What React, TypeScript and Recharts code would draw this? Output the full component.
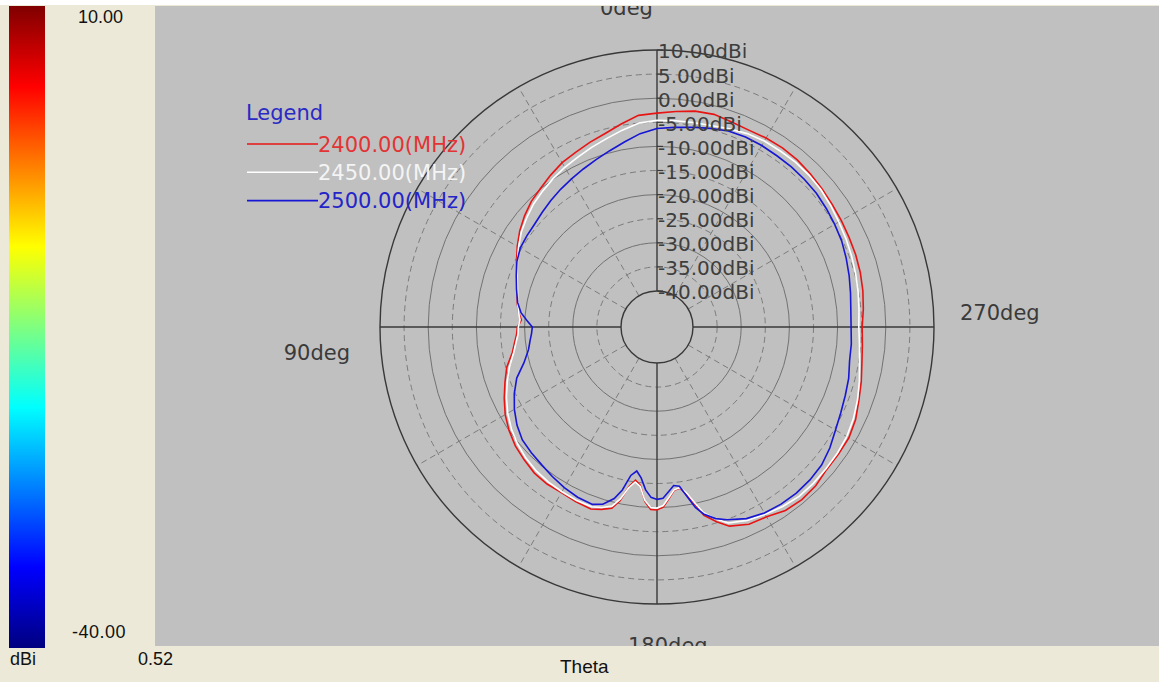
import React from 'react';
import { RadarChart, Radar, PolarGrid, PolarAngleAxis, PolarRadiusAxis } from 'recharts';

// theta in degrees, 0 at top, counter-clockwise (90 = left, 270 = right)
const thetas = [
  0, 5, 10, 15, 20, 25, 30, 35, 40, 45, 50, 55, 60, 65, 70, 75, 80,
  84, 87, 90, 93, 96,
  100, 105, 110, 115, 120, 125, 130, 135, 140, 145, 150, 155, 160,
  163, 166, 168, 170, 172, 174, 176, 178, 180, 182, 184, 186, 188, 190, 192, 194, 197,
  200, 205, 210, 215, 220, 225, 230, 235, 240, 245, 250, 255, 260, 265,
  270, 275, 280, 285, 290, 295, 300, 305, 310, 315, 320, 325, 330, 335, 340, 345, 350, 355,
];

// gain in dBi
const f2400 = [
  -3.1, -3.4, -4.7, -5.9, -6.7, -7.5, -8.1, -9.0, -9.9, -10.6, -11.6, -12.7, -14.0, -15.3, -16.5, -17.4, -18.0,
  -18.6, -19.3, -18.5, -18.3, -17.8,
  -17.0, -15.2, -13.9, -12.5, -11.1, -10.0, -9.1, -8.5, -7.9, -7.7, -7.8, -7.5, -7.3,
  -7.9, -8.7, -10.6, -13.8, -15.4, -14.4, -11.2, -9.6, -9.5, -10.1, -11.8, -13.4, -13.7, -12.3, -9.9, -7.2, -5.2,
  -3.5, -2.3, -2.0, -1.0, -0.7, -0.9, -1.5, -1.5, -1.5, -2.0, -2.9, -3.6, -4.3, -4.7,
  -4.9, -4.5, -4.1, -3.8, -3.6, -3.5, -3.3, -3.1, -2.8, -2.5, -2.2, -2.1, -2.2, -2.4, -2.2, -1.8, -2.0, -2.6,
];
const f2450 = [
  -4.6, -5.0, -6.0, -7.0, -7.8, -8.6, -9.2, -9.9, -10.6, -11.3, -12.2, -13.1, -14.3, -15.5, -16.6, -17.5, -18.1,
  -18.6, -19.0, -18.7, -18.6, -18.1,
  -17.3, -15.8, -14.4, -13.0, -11.7, -10.6, -9.7, -9.0, -8.5, -8.2, -8.0, -7.8, -7.8,
  -8.3, -9.2, -11.0, -13.6, -15.0, -14.2, -11.4, -10.0, -9.9, -10.4, -12.0, -13.5, -13.8, -12.6, -10.3, -7.8, -5.8,
  -4.2, -3.2, -2.6, -2.0, -1.6, -1.6, -1.7, -1.8, -2.0, -2.5, -3.2, -4.0, -4.8, -5.3,
  -5.6, -5.4, -5.1, -4.8, -4.5, -4.2, -3.9, -3.5, -3.1, -2.9, -2.8, -2.9, -2.9, -3.2, -3.7, -4.2, -4.4, -4.5,
];
const f2500 = [
  -6.3, -7.2, -8.5, -9.6, -10.5, -11.3, -12.0, -12.6, -13.2, -13.8, -14.3, -14.5, -14.7, -15.4, -16.4, -17.3, -18.1,
  -19.1, -20.4, -21.6, -21.4, -21.0,
  -20.4, -18.9, -16.5, -14.8, -13.3, -12.0, -11.0, -10.6, -10.2, -9.6, -9.0, -8.5, -8.3,
  -9.0, -10.8, -12.9, -16.2, -17.3, -16.0, -13.6, -12.1, -11.7, -11.9, -13.2, -14.4, -14.1, -11.8, -9.2, -7.5, -5.9,
  -4.9, -3.6, -2.9, -2.6, -2.5, -2.6, -2.9, -3.7, -4.7, -5.4, -5.9, -6.3, -6.9, -7.0,
  -7.2, -7.1, -6.7, -6.2, -5.7, -5.2, -4.9, -4.6, -4.3, -4.2, -4.1, -4.1, -4.0, -4.0, -4.2, -4.8, -5.4, -5.9,
];

const radiusTicks = [-40, -35, -30, -25, -20, -15, -10, -5, 0, 5, 10];
const angleTicks = [0, 90, 180, 270];
const solidRings = [-30, -20, -10, 0];
const dashedRings = [-35, -25, -15, -5, 5];
const borderRings = [-40, 10];
const spokeThetas = [30, 60, 120, 150, 210, 240, 300, 330];

const series = [
  { key: 'f2400', name: '2400.00(MHz)', color: '#e81414', text: '#e23434' },
  { key: 'f2450', name: '2450.00(MHz)', color: '#ffffff', text: '#f4f4f4' },
  { key: 'f2500', name: '2500.00(MHz)', color: '#1616d4', text: '#2424c8' },
];

const rows = thetas.map((theta, i) => ({
  theta,
  f2400: f2400[i],
  f2450: f2450[i],
  f2500: f2500[i],
}));

const R_MIN = -40;
const R_MAX = 10;
const INNER = 36;
const OUTER = 277;
const ring = (db: number) => INNER + ((db - R_MIN) / (R_MAX - R_MIN)) * (OUTER - INNER);
const toChartAngle = (theta: number) => 90 + theta;

const FONT = '"DejaVu Sans", Verdana, sans-serif';
const SMALL_FONT = '"Liberation Sans", Arial, sans-serif';

// where each direction label sits relative to its tick point
const dirLabels: Record<number, { text: string; dx: number; dy: number; anchor: string }> = {
  0: { text: '0deg', dx: -57, dy: -27, anchor: 'start' },
  90: { text: '90deg', dx: -22, dy: 33, anchor: 'end' },
  180: { text: '180deg', dx: -29, dy: 41, anchor: 'start' },
  270: { text: '270deg', dx: 18, dy: -7, anchor: 'start' },
};

const AngleTick = (props: any) => {
  const { x, y, payload } = props;
  const lab = dirLabels[payload.value];
  if (!lab) return <g />;
  return (
    <text x={x + lab.dx} y={y + lab.dy} textAnchor={lab.anchor} fontFamily={FONT} fontSize={21} fill="#3a3a3a">
      {lab.text}
    </text>
  );
};

const RadiusTick = (props: any) => {
  const { x, y, payload } = props;
  return (
    <g>
      <line x1={x} y1={y} x2={x + 6} y2={y} stroke="#3a3a3a" strokeWidth={1.2} />
      <text x={x + 1} y={y} dy="0.42em" fontFamily={FONT} fontSize={20} fill="#3e3e3e">
        {`${Number(payload.value).toFixed(2)}dBi`}
      </text>
    </g>
  );
};

export default function App() {
  return (
    <div style={{ position: 'absolute', left: 0, top: 0, width: 1159, height: 682, overflow: 'hidden', background: '#ffffff' }}>
      <svg width={1159} height={682} style={{ position: 'absolute', left: 0, top: 0 }}>
        <defs>
          <linearGradient id="jet" x1="0" y1="0" x2="0" y2="1">
            <stop offset="0" stopColor="#800000" />
            <stop offset="0.125" stopColor="#ff0000" />
            <stop offset="0.375" stopColor="#ffff00" />
            <stop offset="0.625" stopColor="#00ffff" />
            <stop offset="0.875" stopColor="#0000ff" />
            <stop offset="1" stopColor="#000080" />
          </linearGradient>
        </defs>
        <rect x={0} y={5} width={1159} height={677} fill="#ece9d8" />
        <rect x={9} y={6} width={36} height={642} fill="url(#jet)" />
        <text x={78} y={23} fontFamily={SMALL_FONT} fontSize={18} fill="#111">10.00</text>
        <text x={72} y={638} fontFamily={SMALL_FONT} fontSize={18} fill="#111" letterSpacing={0.5}>-40.00</text>
        <text x={10} y={665} fontFamily={SMALL_FONT} fontSize={18} fill="#111">dBi</text>
        <text x={138} y={665} fontFamily={SMALL_FONT} fontSize={18} fill="#111">0.52</text>
        <text x={560} y={673} fontFamily={SMALL_FONT} fontSize={19} fill="#111">Theta</text>
      </svg>

      <div style={{ position: 'absolute', left: 155, top: 6, width: 1004, height: 640, overflow: 'hidden', background: '#c0c0c0' }}>
        <RadarChart
          width={1004}
          height={640}
          data={rows}
          cx={502}
          cy={321}
          innerRadius={INNER}
          outerRadius={OUTER}
          startAngle={90}
          endAngle={450}
          margin={{ top: 0, right: 0, bottom: 0, left: 0 }}
        >
          <PolarGrid gridType="circle" radialLines={false} polarAngles={[]} polarRadius={dashedRings.map(ring)} stroke="#7c7c7c" strokeDasharray="6 4" />
          <PolarGrid gridType="circle" radialLines={false} polarAngles={[]} polarRadius={solidRings.map(ring)} stroke="#727272" />
          <PolarGrid gridType="circle" radialLines polarAngles={spokeThetas.map(toChartAngle)} polarRadius={[]} stroke="#7c7c7c" strokeDasharray="6 4" />
          <PolarGrid gridType="circle" radialLines polarAngles={angleTicks.map(toChartAngle)} polarRadius={borderRings.map(ring)} stroke="#383838" strokeWidth={1.4} />
          <PolarAngleAxis
            dataKey="theta"
            type="number"
            domain={[0, 360]}
            ticks={angleTicks as any}
            tick={AngleTick}
            tickLine={false}
            axisLine={false}
          />
          <PolarRadiusAxis
            angle={90}
            type="number"
            domain={[R_MIN, R_MAX]}
            ticks={radiusTicks as any}
            tickCount={11}
            axisLine={false}
            tick={RadiusTick}
          />
          {series.map((s) => (
            <Radar
              key={s.key}
              name={s.name}
              dataKey={s.key}
              stroke={s.color}
              strokeWidth={1.6}
              fill="none"
              fillOpacity={0}
              dot={false}
              isAnimationActive={false}
            />
          ))}
        </RadarChart>
      </div>

      <svg width={1159} height={682} style={{ position: 'absolute', left: 0, top: 0, pointerEvents: 'none' }}>
        <text x={246} y={120} fontFamily={FONT} fontSize={21} fill="#2a2ac4">Legend</text>
        {series.map((s, i) => (
          <g key={s.key}>
            <line x1={247} y1={144 + i * 28.3} x2={318} y2={144 + i * 28.3} stroke={s.color} strokeWidth={1.6} />
            <text x={318} y={151.5 + i * 28.3} fontFamily={FONT} fontSize={21} fill={s.text}>{s.name}</text>
          </g>
        ))}
      </svg>
    </div>
  );
}
